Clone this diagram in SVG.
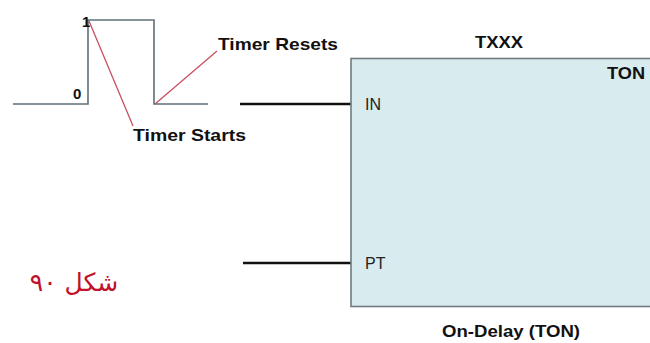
<svg xmlns="http://www.w3.org/2000/svg" width="650" height="343" viewBox="0 0 650 343">
<style>
.b{font-family:"Liberation Sans",Arial,sans-serif;font-weight:bold;fill:#111}
.r{font-family:"Liberation Sans",Arial,sans-serif;fill:#222}
.sig{fill:none;stroke:#5f7178;stroke-width:1.6}
.red{stroke:#c85060;stroke-width:1.3}
.wire{stroke:#111;stroke-width:2.6}
</style>
<rect width="650" height="343" fill="#fff"/>
<g id="signal">
<polyline class="sig" points="13,104 88,104 88,20 154,20 154,104 208,104"/>
<text class="b" x="82" y="27" font-size="15">1</text>
<text class="b" x="73" y="99" font-size="15">0</text>
</g>
<g id="connectors">
<line class="red" x1="89" y1="21" x2="133" y2="126"/>
<line class="red" x1="155" y1="104" x2="217" y2="51"/>
<line class="wire" x1="240" y1="104" x2="351" y2="104"/>
<line class="wire" x1="243" y1="263" x2="351" y2="263"/>
</g>
<g id="label-resets"><text class="b" x="218" y="50" font-size="17" textLength="120" lengthAdjust="spacingAndGlyphs">Timer Resets</text></g>
<g id="label-starts"><text class="b" x="133" y="141" font-size="17" textLength="113" lengthAdjust="spacingAndGlyphs">Timer Starts</text></g>
<g id="ton-block">
<rect x="351" y="58.5" width="305" height="248" fill="#d8ebee" stroke="#6f7c80" stroke-width="1.6"/>
<text class="b" x="475" y="48" font-size="16" textLength="48" lengthAdjust="spacingAndGlyphs">TXXX</text>
<text class="b" x="607" y="79" font-size="16" textLength="38" lengthAdjust="spacingAndGlyphs">TON</text>
<text class="r" x="365" y="110" font-size="16">IN</text>
<text class="r" x="365" y="269" font-size="16">PT</text>
<text class="b" x="442" y="337" font-size="16" textLength="138" lengthAdjust="spacingAndGlyphs">On-Delay (TON)</text>
</g>
<g id="caption"><text x="74" y="291" font-size="25" text-anchor="middle" fill="#c0102a" font-family="'DejaVu Sans','Noto Sans',sans-serif">شکل ۹۰</text></g>
</svg>
